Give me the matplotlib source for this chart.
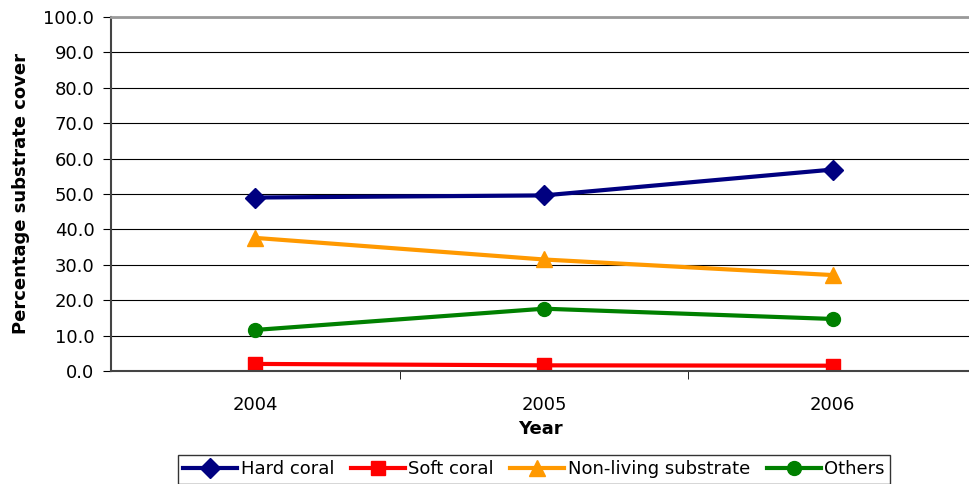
import numpy as np
import matplotlib
matplotlib.use("Agg")
import matplotlib.pyplot as plt

plt.rcParams['font.family'] = ['DejaVu Sans']

years = ['2004', '2005', '2006']
hard_coral = [49.0, 49.6, 56.9]
soft_coral = [2.0, 1.6, 1.5]
non_living = [37.6, 31.5, 27.1]
others = [11.6, 17.6, 14.7]

fig = plt.figure(figsize=(9.7, 4.84), dpi=100)
ax = fig.add_axes([111/970, 113/484, 1 - 111/970, (371 - 17)/484])

x = np.arange(len(years))
ax.plot(x, hard_coral, color='#000080', lw=3, marker='D', ms=10, label='Hard coral')
ax.plot(x, soft_coral, color='#FF0000', lw=3, marker='s', ms=10, label='Soft coral')
ax.plot(x, non_living, color='#FF9900', lw=3, marker='^', ms=11, label='Non-living substrate')
ax.plot(x, others, color='#008000', lw=3, marker='o', ms=10, label='Others')

ax.set_ylim(0, 100)
ax.set_yticks(np.arange(0, 101, 10))
ax.set_yticklabels([f'{v:.1f}' for v in np.arange(0, 101, 10)], fontsize=13)
ax.set_xlim(-0.5, 2.476)
ax.set_xticks(x)
ax.set_xticklabels(years, fontsize=13)
ax.set_xticks([0.5, 1.5], minor=True)
ax.tick_params(axis='x', which='major', length=0, pad=18)
ax.tick_params(axis='x', which='minor', length=6, direction='out', color='black')
ax.tick_params(axis='y', length=6, direction='out', color='black', pad=6)

ax.grid(axis='y', color='black', lw=0.8)
ax.set_axisbelow(True)
ax.spines['right'].set_visible(False)
ax.spines['top'].set_color('#999999')
ax.spines['top'].set_linewidth(2)
ax.spines['left'].set_color('#444444')
ax.spines['left'].set_linewidth(1.5)
ax.spines['bottom'].set_color('#444444')
ax.spines['bottom'].set_linewidth(1.5)

ax.set_xlabel('Year', fontsize=13, fontweight='bold', labelpad=4)
ax.set_ylabel('Percentage substrate cover', fontsize=13, fontweight='bold', labelpad=10)

leg = fig.legend(loc='upper center', bbox_to_anchor=(534/970, 1 - 455/484), ncol=4,
                 fontsize=13, frameon=True, fancybox=False, edgecolor='black',
                 handlelength=3.0, handletextpad=0.2, columnspacing=0.9,
                 borderpad=0.3, borderaxespad=0)
leg.get_frame().set_linewidth(1)

fig.savefig('out.png', dpi=100)
